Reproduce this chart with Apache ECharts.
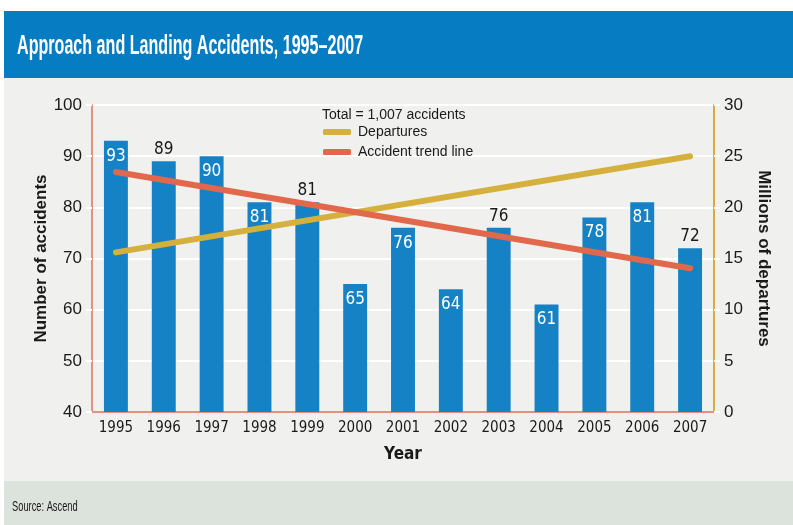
<!DOCTYPE html>
<html><head><meta charset="utf-8">
<script src="https://cdn.jsdelivr.net/npm/echarts@6/dist/echarts.min.js"></script>
<style>html,body{margin:0;padding:0;background:#fff}#c{width:793px;height:525px}</style>
</head><body><div id="c"></div>
<script>
const years = ['1995','1996','1997','1998','1999','2000','2001','2002','2003','2004','2005','2006','2007'];
const accidents = [93,89,90,81,81,65,76,64,76,61,78,81,72];
// Departures (millions) line, drawn as a straight line between its end points
const departures = [15.6,null,null,null,null,null,null,null,null,null,null,null,25.0];
// Accident trend line end points
const trend = [86.9,null,null,null,null,null,null,null,null,null,null,null,68.1];
const leftAxisRange = {min:40, max:100, interval:10};
const rightAxisRange = {min:0, max:30, interval:5};
const titleText = 'Approach and Landing Accidents, 1995\u20132007';
const totalText = 'Total = 1,007 accidents';
const sourceText = 'Source: Ascend';
const labelsAbove = ['1996','1999','2003','2007'];

const NARROW = "'DejaVu Sans Condensed','Liberation Sans Narrow',sans-serif";
const REG = "'Liberation Sans',sans-serif";

const chart = echarts.init(document.getElementById('c'), null, {renderer:'canvas'});
const barData = accidents.map((v,i)=>{
  const above = labelsAbove.indexOf(years[i])>=0;
  return {value:v, label:{position: above?'top':'insideTop', color: above?'#1a1a1a':'#ffffff', distance: above?3:7}};
});
chart.setOption({
  backgroundColor:'#f0f1ee',
  animation:false,
  graphic:{elements:[
    {type:'rect', shape:{x:0,y:0,width:793,height:11}, style:{fill:'#ffffff'}, silent:true},
    {type:'rect', shape:{x:0,y:0,width:4,height:525}, style:{fill:'#ffffff'}, silent:true},
    {type:'rect', shape:{x:4,y:11,width:789,height:67}, style:{fill:'#067dc2'}, silent:true},
    {type:'rect', shape:{x:4,y:481,width:789,height:44}, style:{fill:'#dce3dc'}, silent:true},
    {type:'text', x:17, y:46, scaleX:0.575, style:{text:titleText, fill:'#ffffff', font:"bold 28px "+REG, textVerticalAlign:'middle'}},
    {type:'text', x:12, y:507, scaleX:0.62, style:{text:sourceText, fill:'#1a1a1a', font:"15px "+REG, textVerticalAlign:'middle'}},
    {type:'text', x:322, y:115, style:{text:totalText, fill:'#1a1a1a', font:"14px "+REG, textVerticalAlign:'middle'}}
  ]},
  legend:{
    orient:'vertical', left:318, top:120, itemWidth:28, itemHeight:6, itemGap:6,
    icon:'roundRect',
    textStyle:{fontFamily:REG, fontSize:14, color:'#1a1a1a', padding:[0,0,0,2]},
    data:['Departures','Accident trend line']
  },
  grid:{left:92, right:79, top:105, bottom:113},
  xAxis:{
    type:'category', data:years,
    name:'Year', nameLocation:'middle', nameGap:34,
    nameTextStyle:{fontFamily:NARROW, fontWeight:'bold', fontSize:17, color:'#1a1a1a'},
    axisLine:{lineStyle:{color:'#e3907e', width:2}},
    axisTick:{show:false},
    axisLabel:{fontFamily:NARROW, fontSize:15, color:'#1a1a1a', margin:9, interval:0}
  },
  yAxis:[
    {type:'value', min:leftAxisRange.min, max:leftAxisRange.max, interval:leftAxisRange.interval,
     name:'Number of accidents', nameLocation:'middle', nameGap:42, nameRotate:90, nameMoveOverlap:false,
     nameTextStyle:{fontFamily:REG, fontWeight:'bold', fontSize:17, color:'#1a1a1a'},
     axisLine:{show:true, lineStyle:{color:'#e3907e', width:2}},
     axisTick:{show:true, length:6, lineStyle:{color:'#ffffff', width:2}},
     axisLabel:{fontFamily:REG, fontSize:17, color:'#1a1a1a', margin:10},
     splitLine:{lineStyle:{color:'#ffffff', width:2}}},
    {type:'value', min:rightAxisRange.min, max:rightAxisRange.max, interval:rightAxisRange.interval,
     position:'right',
     name:'Millions of departures', nameLocation:'middle', nameGap:41, nameRotate:-90, nameMoveOverlap:false,
     nameTextStyle:{fontFamily:REG, fontWeight:'bold', fontSize:17, color:'#1a1a1a'},
     axisLine:{show:true, lineStyle:{color:'#d8ab3c', width:2}},
     axisTick:{show:true, length:6, lineStyle:{color:'#ffffff', width:2}},
     axisLabel:{fontFamily:REG, fontSize:17, color:'#1a1a1a', margin:10},
     splitLine:{show:false}}
  ],
  series:[
    {type:'bar', name:'Accidents', data:barData, barWidth:'50%', yAxisIndex:0,
     itemStyle:{color:'#1482c5'},
     label:{show:true, fontFamily:NARROW, fontSize:17}},
    {type:'line', name:'Departures', data:departures, yAxisIndex:1, connectNulls:true,
     symbol:'none', z:4, color:'#d6b03c',
     lineStyle:{color:'#d6b03c', width:6, cap:'round'}},
    {type:'line', name:'Accident trend line', data:trend, yAxisIndex:0, connectNulls:true,
     symbol:'none', z:5, color:'#e2684c',
     lineStyle:{color:'#e2684c', width:6, cap:'round'}}
  ]
});
</script></body></html>
